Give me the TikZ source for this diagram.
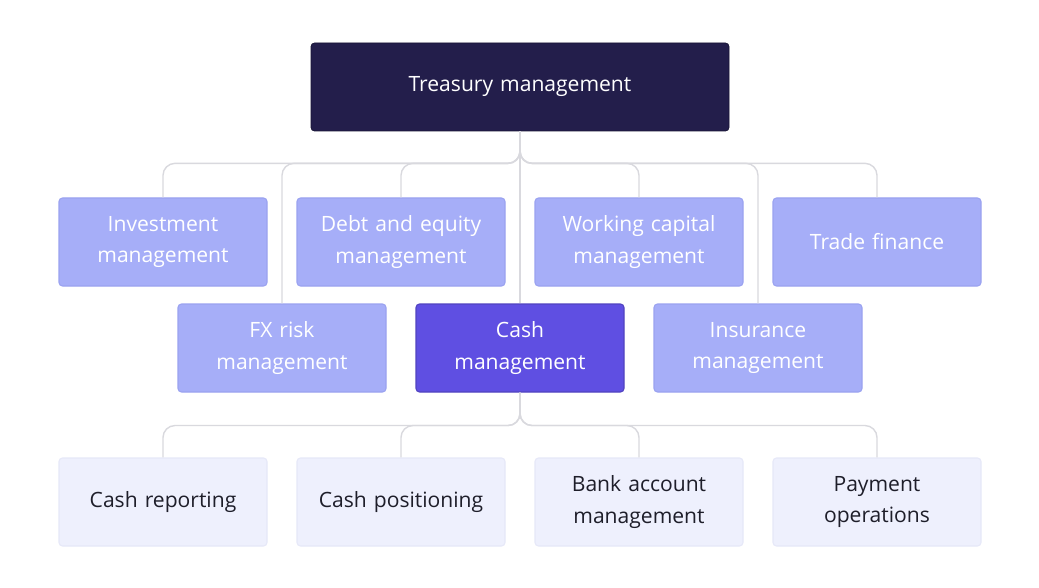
\documentclass[tikz,border=0pt]{standalone}
\usepackage{fontspec}
\setmainfont{Open Sans}
\begin{document}
\begin{tikzpicture}[x=0.02cm,y=-0.02cm,
  box/.style={minimum width=208*0.02cm,minimum height=88*0.02cm,rounded corners=2pt,align=center,font=\fontsize{12}{18}\selectfont,inner sep=0pt,text width=190*0.02cm},
  lvl1/.style={box,fill=lav,draw=lavd,line width=0.6pt,text=white},
  lvl3/.style={box,fill=pale,draw=paled,line width=0.6pt,text=ink},
  conn/.style={draw=linec,line width=0.8pt,rounded corners=12*0.02cm}]
\definecolor{navy}{HTML}{231E4B}
\definecolor{lav}{HTML}{A6AEF8}
\definecolor{lavd}{HTML}{9AA2F0}
\definecolor{cash}{HTML}{5F4FE2}
\definecolor{pale}{HTML}{EEF0FD}
\definecolor{paled}{HTML}{E6E8F8}
\definecolor{ink}{HTML}{1E1E2A}
\definecolor{linec}{HTML}{D9D9DE}
\fill[white] (0,0) rectangle (1039,588);
\node[box,fill=navy,draw=navy!70!black,minimum width=418*0.02cm,text width=400*0.02cm,text=white] (top) at (520,87) {Treasury management};
\node[lvl1] (inv) at (163,242) {Investment\\management};
\node[lvl1] (debt) at (401,242) {Debt and equity\\management};
\node[lvl1] (work) at (639,242) {Working capital\\management};
\node[lvl1] (trade) at (877,242) {Trade finance};
\node[lvl1] (fx) at (282,348) {FX risk\\management};
\node[box,fill=cash,draw=cash!85!black,line width=0.6pt,text=white] (cash) at (520,348) {Cash\\management};
\node[lvl1] (ins) at (758,348) {Insurance\\management};
\node[lvl3] (rep) at (163,502) {Cash reporting};
\node[lvl3] (pos) at (401,502) {Cash positioning};
\node[lvl3] (bank) at (639,502) {Bank account\\management};
\node[lvl3] (pay) at (877,502) {Payment\\operations};
\foreach \n in {inv,debt,work,trade,fx,ins}
  \draw[conn] (top.south) -- ++(0,32) -| (\n.north);
\draw[conn] (top.south) -- (cash.north);
\foreach \n in {rep,pos,bank,pay}
  \draw[conn] (cash.south) -- ++(0,33) -| (\n.north);
\end{tikzpicture}
\end{document}
